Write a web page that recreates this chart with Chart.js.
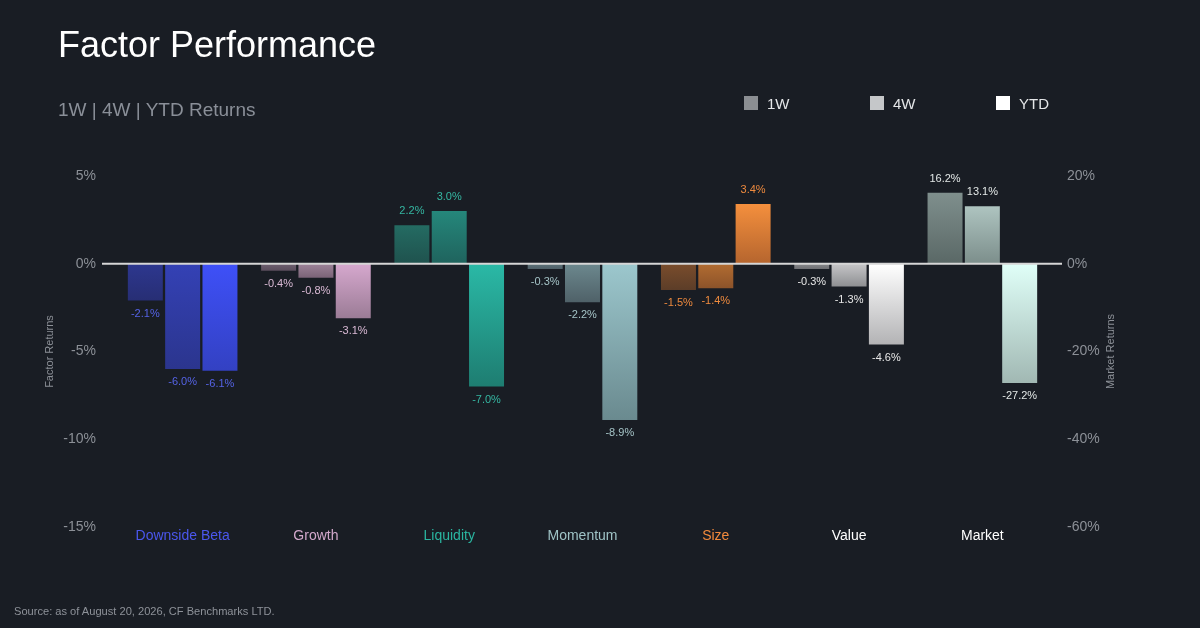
<!DOCTYPE html>
<html>
<head>
<meta charset="utf-8">
<script src="https://cdn.jsdelivr.net/npm/chart.js@4.4.1/dist/chart.umd.min.js"></script>
<style>
  html, body { margin:0; padding:0; background:#191d24; }
  #wrap { position:relative; width:1200px; height:628px; background:#191d24; overflow:hidden; font-family:"Liberation Sans", Arial, sans-serif; }
  #c { position:absolute; left:0; top:0; }
  .t { position:absolute; white-space:nowrap; line-height:1; }
  #title { left:58px; top:26.5px; font-size:36px; color:#ffffff; }
  #subtitle { left:58px; top:100px; font-size:19px; color:#8a8f98; }
  #source { left:14px; top:606px; font-size:11.1px; color:#8e9299; }
  .lg { position:absolute; top:95.5px; width:14px; height:14px; }
  .lgt { position:absolute; top:96.3px; font-size:15px; color:#e4e6e8; line-height:1; }
</style>
</head>
<body>
<div id="wrap">
  <canvas id="c" width="1200" height="628"></canvas>
  <div class="t" id="title">Factor Performance</div>
  <div class="t" id="subtitle">1W | 4W | YTD Returns</div>
  <div id="legend"></div>
  <div class="t" id="source">Source: as of August 20, 2026, CF Benchmarks LTD.</div>
</div>
<script>
// ---- data ----
const categories = ['Downside Beta', 'Growth', 'Liquidity', 'Momentum', 'Size', 'Value', 'Market'];
const seriesNames = ['1W', '4W', 'YTD'];
const returns1W  = [-2.1, -0.4, 2.2, -0.3, -1.5, -0.3, 16.2];
const returns4W  = [-6.0, -0.8, 3.0, -2.2, -1.4, -1.3, 13.1];
const returnsYTD = [-6.1, -3.1, -7.0, -8.9, 3.4, -4.6, -27.2];
const marketCategory = 'Market';
const leftTicks = [5, 0, -5, -10, -15];
const rightTicks = [20, 0, -20, -40, -60];

// ---- styles ----
const legendColors = ['#8b8e92', '#c5c7c9', '#ffffff'];
const topColors = [
  ['#2d378f', '#6e5f70', '#246b62', '#5d7279', '#7a4d2c', '#88898c', '#7f8f8d'],
  ['#3441b5', '#9d8399', '#25877b', '#6c888e', '#b26c31', '#c6c6c8', '#aec4c0'],
  ['#3e50f8', '#d6a8ce', '#2ab9a6', '#9cc7cd', '#f48f3d', '#ffffff', '#e0fff8']
];
const bottomColors = [
  ['#272e74', '#5a4d5c', '#1f524e', '#4f6068', '#5c3d28', '#6e6f73', '#5a6866'],
  ['#2b358e', '#7a6377', '#1f635d', '#4f6168', '#8c532a', '#8e8f92', '#7c8e8b'],
  ['#3341c2', '#9b7c96', '#1e7d71', '#6a8a8f', '#b5652e', '#b3b3b5', '#a1b8b3']
];
const labelColors = ['#5563e6', '#d9b9d4', '#35b7a2', '#a5c4c7', '#ee8a3e', '#e6e6e6', '#e2e7e6'];
const categoryColors = ['#4b57ee', '#d2a8cb', '#2ab5a0', '#9fc3c6', '#f28a3c', '#ffffff', '#ffffff'];
const tickColor = '#8c9097';

// ---- legend (HTML) ----
const legendEl = document.getElementById('legend');
seriesNames.forEach((n, i) => {
  const x = 744 + i * 126;
  const sq = document.createElement('div');
  sq.className = 'lg'; sq.style.left = x + 'px'; sq.style.background = legendColors[i];
  const tx = document.createElement('div');
  tx.className = 'lgt'; tx.style.left = (x + 23) + 'px'; tx.textContent = n;
  legendEl.appendChild(sq); legendEl.appendChild(tx);
});

// ---- datasets ----
const allSeries = [returns1W, returns4W, returnsYTD];
function gradFor(s) {
  return (c) => {
    const chart = c.chart;
    const i = c.dataIndex;
    const v = c.raw;
    if (i === undefined) return topColors[s][0];
    if (v == null || !chart.chartArea) return topColors[s][i];
    const sc = chart.scales[c.dataset.yAxisID];
    const y1 = sc.getPixelForValue(v), y0 = sc.getPixelForValue(0);
    const top = Math.min(y1, y0), bot = Math.max(y1, y0);
    if (bot - top < 1) return topColors[s][i];
    const g = chart.ctx.createLinearGradient(0, top, 0, bot);
    g.addColorStop(0, topColors[s][i]);
    g.addColorStop(1, bottomColors[s][i]);
    return g;
  };
}
const datasets = [];
allSeries.forEach((arr, s) => {
  datasets.push({
    label: seriesNames[s] + ' Factors',
    data: arr.map((v, i) => categories[i] === marketCategory ? null : v),
    yAxisID: 'yL', backgroundColor: gradFor(s), borderWidth: 0,
    categoryPercentage: 0.84, barPercentage: 0.9375, skipNull: true
  });
});
allSeries.forEach((arr, s) => {
  datasets.push({
    label: seriesNames[s] + ' Market',
    data: arr.map((v, i) => categories[i] === marketCategory ? v : null),
    yAxisID: 'yR', backgroundColor: gradFor(s), borderWidth: 0,
    categoryPercentage: 0.84, barPercentage: 0.9375, skipNull: true
  });
});

// ---- plugins ----
const zeroLine = {
  id: 'zeroLine',
  afterDatasetsDraw(chart) {
    const {ctx, chartArea} = chart;
    const y = chart.scales.yL.getPixelForValue(0);
    ctx.save();
    ctx.strokeStyle = '#d6d6d6';
    ctx.lineWidth = 2;
    ctx.beginPath();
    ctx.moveTo(chartArea.left - 14, y);
    ctx.lineTo(chartArea.right + 13, y);
    ctx.stroke();
    ctx.restore();
  }
};
const valueLabels = {
  id: 'valueLabels',
  afterDatasetsDraw(chart) {
    const {ctx} = chart;
    ctx.save();
    ctx.font = '11px "Liberation Sans", Arial, sans-serif';
    ctx.textAlign = 'center';
    ctx.textBaseline = 'middle';
    chart.data.datasets.forEach((ds, di) => {
      const meta = chart.getDatasetMeta(di);
      meta.data.forEach((el, i) => {
        const v = ds.data[i];
        if (v == null) return;
        ctx.fillStyle = labelColors[i];
        const y = v >= 0 ? el.y - 14 : el.y + 13;
        ctx.fillText(v.toFixed(1) + '%', el.x, y);
      });
    });
    ctx.restore();
  }
};
const rightTitle = {
  id: 'rightTitle',
  afterDraw(chart) {
    const {ctx, chartArea} = chart;
    ctx.save();
    ctx.translate(1110.5, (chartArea.top + chartArea.bottom) / 2);
    ctx.rotate(-Math.PI / 2);
    ctx.font = '11px "Liberation Sans", Arial, sans-serif';
    ctx.fillStyle = tickColor;
    ctx.textAlign = 'center';
    ctx.textBaseline = 'middle';
    ctx.fillText('Market Returns', 0, 0);
    ctx.restore();
  }
};

Chart.defaults.font.family = '"Liberation Sans", Arial, sans-serif';

new Chart(document.getElementById('c'), {
  type: 'bar',
  data: { labels: categories, datasets },
  options: {
    responsive: false,
    animation: false,
    devicePixelRatio: 1,
    layout: { padding: { top: 176, bottom: 71, left: 0, right: 0 } },
    plugins: { legend: { display: false }, tooltip: { enabled: false } },
    scales: {
      x: {
        grid: { display: false, drawTicks: false },
        border: { display: false },
        ticks: {
          padding: 1,
          font: { size: 14 },
          color: (c) => categoryColors[c.index]
        },
        afterFit(sc) { sc.height = 30; }
      },
      yL: {
        position: 'left',
        min: -15, max: 5,
        grid: { display: false, drawTicks: false },
        border: { display: false },
        afterBuildTicks(sc) { sc.ticks = leftTicks.map(v => ({ value: v })); },
        ticks: { padding: 20, font: { size: 14 }, color: tickColor, callback: (v) => v + '%' },
        title: { display: true, text: 'Factor Returns', color: tickColor, font: { size: 11 }, padding: { top: 43, bottom: 0 } },
        afterFit(sc) { sc.width = 116; }
      },
      yR: {
        position: 'right',
        min: -60, max: 20,
        grid: { display: false, drawTicks: false },
        border: { display: false },
        afterBuildTicks(sc) { sc.ticks = rightTicks.map(v => ({ value: v })); },
        ticks: { padding: 18, font: { size: 14 }, color: tickColor, callback: (v) => v + '%' },
        afterFit(sc) { sc.width = 151; }
      }
    }
  },
  plugins: [zeroLine, valueLabels, rightTitle]
});
</script>
</body>
</html>
